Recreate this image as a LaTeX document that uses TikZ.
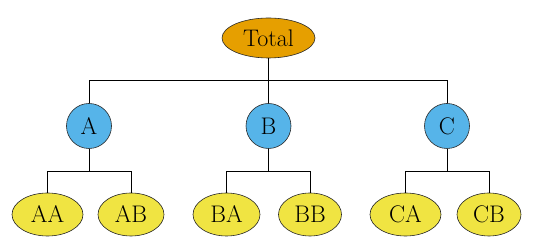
\documentclass[tikz,border=0pt]{standalone}
\usepackage{fontspec}
\usetikzlibrary{shapes.geometric}
\begin{document}
\begin{tikzpicture}[x=1pt,y=1pt,
  nodefont/.style={font=\fontsize{24}{28}\selectfont},
  root/.style={nodefont, draw=black!85, line width=0.6pt, inner sep=0pt, ellipse, fill=rootc, minimum width=93pt, minimum height=40pt},
  mid/.style={nodefont, draw=black!85, line width=0.6pt, inner sep=0pt, circle, fill=midc, minimum size=45pt},
  leaf/.style={nodefont, draw=black!85, line width=0.6pt, inner sep=0pt, ellipse, fill=leafc, minimum height=43pt},
  edge/.style={draw=black, line width=0.6pt}
]
\definecolor{rootc}{HTML}{E69F00}
\definecolor{midc}{HTML}{56B4E9}
\definecolor{leafc}{HTML}{F0E442}
\useasboundingbox (0,0) rectangle (536,-245);
\node[root] (T) at (268.5,-38) {Total};
\node[mid] (A) at (89,-126) {A};
\node[mid] (B) at (268.5,-126) {B};
\node[mid] (C) at (447,-126) {C};
\node[leaf, minimum width=71pt] (AA) at (47.5,-214.5) {AA};
\node[leaf, minimum width=66pt] (AB) at (131,-214.5) {AB};
\node[leaf, minimum width=67pt] (BA) at (226.5,-214.5) {BA};
\node[leaf, minimum width=63pt] (BB) at (310,-214.5) {BB};
\node[leaf, minimum width=71pt] (CA) at (405.5,-214.5) {CA};
\node[leaf, minimum width=64pt] (CB) at (489,-214.5) {CB};
\coordinate (j0) at (268.5,-80);
\coordinate (jA) at (89,-171);
\coordinate (jB) at (268.5,-171);
\coordinate (jC) at (447,-171);
\draw[edge] (T.south) -- (j0);
\draw[edge] (j0) -| (A.north);
\draw[edge] (j0) -| (B.north);
\draw[edge] (j0) -| (C.north);
\draw[edge] (A.south) -- (jA);
\draw[edge] (jA) -| (AA.north);
\draw[edge] (jA) -| (AB.north);
\draw[edge] (B.south) -- (jB);
\draw[edge] (jB) -| (BA.north);
\draw[edge] (jB) -| (BB.north);
\draw[edge] (C.south) -- (jC);
\draw[edge] (jC) -| (CA.north);
\draw[edge] (jC) -| (CB.north);
\end{tikzpicture}
\end{document}
